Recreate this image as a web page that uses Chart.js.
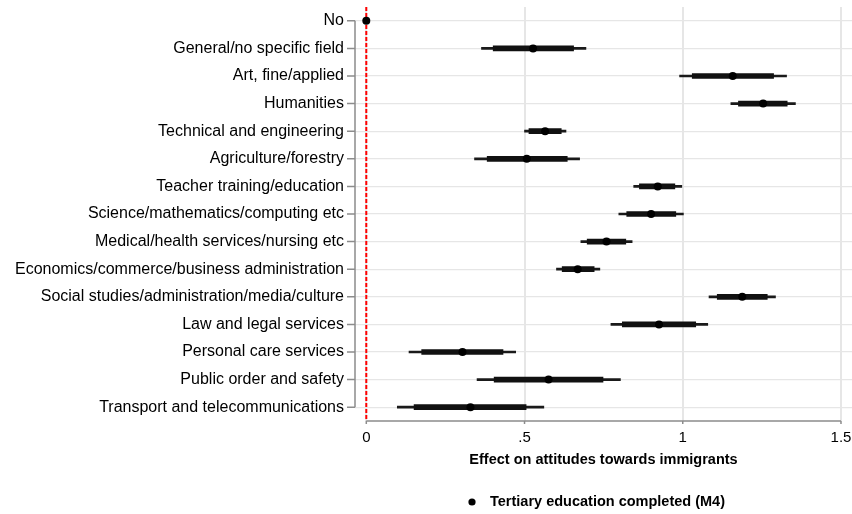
<!DOCTYPE html>
<html>
<head>
<meta charset="utf-8">
<script src="https://cdn.jsdelivr.net/npm/chart.js@4/dist/chart.umd.min.js"></script>
<style>
    body { margin: 0; background: #fff; }
    #wrap { width: 852px; height: 514px; position: relative; }
</style>
</head>
<body>
<div id="wrap"><canvas id="coef-chart"></canvas></div>
<script>
// Field of study categories, top to bottom
const categories = [
    "No",
    "General/no specific field",
    "Art, fine/applied",
    "Humanities",
    "Technical and engineering",
    "Agriculture/forestry",
    "Teacher training/education",
    "Science/mathematics/computing etc",
    "Medical/health services/nursing etc",
    "Economics/commerce/business administration",
    "Social studies/administration/media/culture",
    "Law and legal services",
    "Personal care services",
    "Public order and safety",
    "Transport and telecommunications"
];

// Point estimates
const estimates = [0, 0.527, 1.158, 1.254, 0.565, 0.507, 0.921, 0.900, 0.759, 0.668, 1.188, 0.925, 0.304, 0.576, 0.329];

// Inner (thick) interval
const innerLow  = [null, 0.401, 1.030, 1.176, 0.514, 0.382, 0.863, 0.823, 0.698, 0.619, 1.109, 0.809, 0.175, 0.404, 0.151];
const innerHigh = [null, 0.655, 1.287, 1.330, 0.616, 0.635, 0.975, 0.978, 0.820, 0.720, 1.267, 1.041, 0.432, 0.748, 0.505];

// Outer (thin) interval
const outerLow  = [null, 0.364, 0.990, 1.152, 0.500, 0.342, 0.845, 0.798, 0.678, 0.601, 1.083, 0.773, 0.135, 0.350, 0.098];
const outerHigh = [null, 0.694, 1.328, 1.356, 0.631, 0.674, 0.997, 1.002, 0.840, 0.738, 1.293, 1.079, 0.472, 0.803, 0.561];

// x axis ticks
const xTickValues = [0, 0.5, 1, 1.5];
const xTickLabels = ["0", ".5", "1", "1.5"];

const seriesLabel = "Tertiary education completed (M4)";
const xTitle = "Effect on attitudes towards immigrants";

const FONT = "'Liberation Sans', Arial, Helvetica, sans-serif";
Chart.defaults.font.family = FONT;
Chart.defaults.color = "#000";

function toRanges(lo, hi) {
    return lo.map((v, i) => (v === null ? null : [v, hi[i]]));
}

// Red reference line at zero, axis lines and a legend under the axis title
const decorations = {
    id: "decorations",
    beforeDatasetsDraw(chart) {
        const { ctx, chartArea, scales } = chart;
        const x0 = scales.x.getPixelForValue(0);
        ctx.save();
        ctx.strokeStyle = "#ff0000";
        ctx.lineWidth = 2;
        ctx.setLineDash([4, 2]);
        ctx.beginPath();
        ctx.moveTo(x0, chartArea.top);
        ctx.lineTo(x0, chartArea.bottom);
        ctx.stroke();
        ctx.restore();
    },
    afterDraw(chart) {
        const { ctx, chartArea, scales } = chart;
        const x = scales.x;
        const y = scales.y;
        ctx.save();
        ctx.strokeStyle = "#8c8c8c";
        ctx.lineWidth = 1.5;

        // y axis line between first and last category, ticks to the left
        const left = chartArea.left;
        const yTop = y.getPixelForValue(0);
        const yBot = y.getPixelForValue(categories.length - 1);
        ctx.beginPath();
        ctx.moveTo(left, yTop);
        ctx.lineTo(left, yBot);
        categories.forEach((_, i) => {
            const py = y.getPixelForValue(i);
            ctx.moveTo(left - 8, py);
            ctx.lineTo(left, py);
        });
        ctx.stroke();

        // x axis line from first to last tick, small ticks below
        const base = chartArea.bottom;
        ctx.beginPath();
        ctx.moveTo(x.getPixelForValue(xTickValues[0]), base);
        ctx.lineTo(x.getPixelForValue(xTickValues[xTickValues.length - 1]), base);
        xTickValues.forEach(v => {
            const px = x.getPixelForValue(v);
            ctx.moveTo(px, base);
            ctx.lineTo(px, base + 3);
        });
        ctx.stroke();

        // legend
        ctx.font = "bold 14.5px " + FONT;
        const textW = ctx.measureText(seriesLabel).width;
        const groupW = 8 + 14 + textW;
        const cx = (chartArea.left + chartArea.right) / 2 - 7;
        const startX = cx - groupW / 2;
        const ly = 502;
        ctx.fillStyle = "#000";
        ctx.beginPath();
        ctx.arc(startX + 4, ly, 3.6, 0, Math.PI * 2);
        ctx.fill();
        ctx.textAlign = "left";
        ctx.textBaseline = "middle";
        ctx.fillText(seriesLabel, startX + 22, ly);
        ctx.restore();
    }
};

const ctx = document.getElementById("coef-chart").getContext("2d");
new Chart(ctx, {
    data: {
        labels: categories,
        datasets: [
            {
                type: "line",
                label: seriesLabel,
                data: estimates,
                showLine: false,
                pointRadius: 4,
                pointBorderWidth: 0,
                pointBackgroundColor: "#000",
                order: 0
            },
            {
                type: "bar",
                label: "inner",
                data: toRanges(innerLow, innerHigh),
                backgroundColor: "#111",
                barThickness: 5,
                grouped: false,
                order: 1
            },
            {
                type: "bar",
                label: "outer",
                data: toRanges(outerLow, outerHigh),
                backgroundColor: "#1a1a1a",
                barThickness: 2,
                grouped: false,
                order: 2
            }
        ]
    },
    options: {
        indexAxis: "y",
        responsive: true,
        maintainAspectRatio: false,
        animation: false,
        events: [],
        layout: { autoPadding: false, padding: { top: 7, right: 0, bottom: 43, left: 0 } },
        plugins: {
            legend: { display: false },
            tooltip: { enabled: false }
        },
        scales: {
            x: {
                type: "linear",
                min: -0.0357,
                max: 1.5348,
                afterFit(scale) {
                    scale.height = 50;
                    scale.paddingLeft = 0;
                    scale.paddingRight = 0;
                },
                afterBuildTicks(scale) {
                    scale.ticks = xTickValues.map(v => ({ value: v }));
                },
                ticks: {
                    padding: 8,
                    font: { size: 15 },
                    color: "#000",
                    callback: (value) => xTickLabels[xTickValues.indexOf(value)]
                },
                grid: { color: "#e6e6e6", lineWidth: 2, drawTicks: false },
                border: { display: false },
                title: {
                    display: true,
                    text: xTitle,
                    font: { size: 14.5, weight: "bold" },
                    color: "#000",
                    padding: { top: 0, bottom: 2 }
                }
            },
            y: {
                type: "category",
                offset: true,
                afterFit(scale) {
                    scale.width = 355;
                    scale.paddingTop = 0;
                    scale.paddingBottom = 0;
                },
                ticks: { padding: 11, font: { size: 16 }, color: "#000" },
                grid: { color: "#e6e6e6", lineWidth: 1.3, offset: false, drawTicks: false },
                border: { display: false }
            }
        }
    },
    plugins: [decorations]
});
</script>
</body>
</html>
